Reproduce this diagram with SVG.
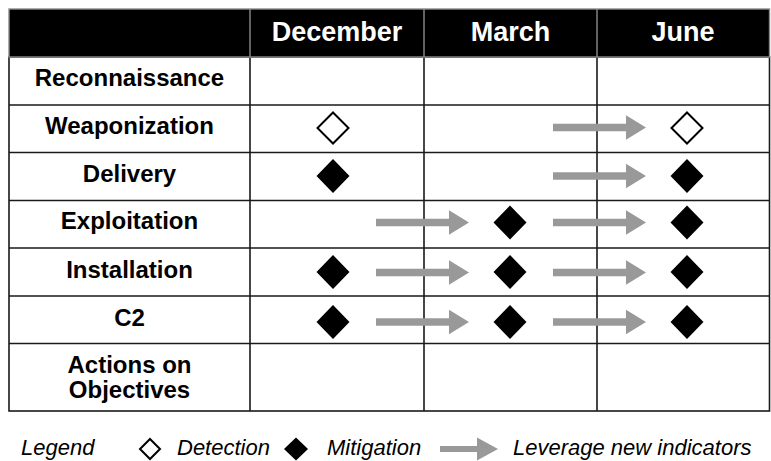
<svg xmlns="http://www.w3.org/2000/svg" xmlns:xlink="http://www.w3.org/1999/xlink" width="771" height="461" viewBox="0 0 771 461">
<style>
text{font-family:"Liberation Sans",Arial,Helvetica,sans-serif}
.hd{font-size:27px;font-weight:bold;fill:#fff;text-anchor:middle}
.lb{font-size:24px;font-weight:bold;fill:#000;text-anchor:middle}
.lg{font-size:22px;font-style:italic;fill:#000}
.grid{stroke:#1a1a1a;stroke-width:1.6;fill:none}
.hbox{stroke:#8c8c8c;stroke-width:1.4;fill:#000}
.hgrid{stroke:#8c8c8c;stroke-width:1.4;fill:none}
.det{fill:#fff;stroke:#000;stroke-width:2}
.mit{fill:#000}
.arr{fill:#999}
</style>
<defs>
<path id="dOpen" d="M0,-15.5 L15.5,0 L0,15.5 L-15.5,0Z"/>
<path id="dFill" d="M0,-17 L16.5,0 L0,17 L-16.5,0Z"/>
<path id="arrow" d="M0,-3.8 H73 V-12.3 L93,0 L73,12.3 V3.8 H0Z"/>
</defs>
<g id="table">
<rect x="9" y="57" width="760.5" height="354" class="grid"/>
<path class="grid" d="M250,57V411 M424,57V411 M597,57V411 M9,105H769.5 M9,152.5H769.5 M9,200.5H769.5 M9,248H769.5 M9,296H769.5 M9,343.5H769.5"/>
</g>
<g id="header">
<rect x="9" y="9" width="760.5" height="48" class="hbox"/>
<path class="hgrid" d="M250,9V57 M424,9V57 M597,9V57"/>
<text class="hd" x="337" y="41">December</text>
<text class="hd" x="510.5" y="41">March</text>
<text class="hd" x="683" y="41">June</text>
</g>
<g id="row-reconnaissance"><text class="lb" x="129.5" y="86">Reconnaissance</text></g>
<g id="row-weaponization"><text class="lb" x="129.5" y="134">Weaponization</text>
<use href="#dOpen" class="det" x="333" y="128"/>
<use href="#dOpen" class="det" x="687" y="128"/></g>
<g id="row-delivery"><text class="lb" x="129.5" y="182">Delivery</text>
<use href="#dFill" class="mit" x="333" y="176"/>
<use href="#dFill" class="mit" x="687" y="176"/></g>
<g id="row-exploitation"><text class="lb" x="129.5" y="229">Exploitation</text>
<use href="#dFill" class="mit" x="510" y="222.5"/>
<use href="#dFill" class="mit" x="687" y="222.5"/></g>
<g id="row-installation"><text class="lb" x="129.5" y="278">Installation</text>
<use href="#dFill" class="mit" x="333" y="272"/>
<use href="#dFill" class="mit" x="510" y="272"/>
<use href="#dFill" class="mit" x="687" y="272"/></g>
<g id="row-c2"><text class="lb" x="129.5" y="326">C2</text>
<use href="#dFill" class="mit" x="333" y="322"/>
<use href="#dFill" class="mit" x="510" y="322"/>
<use href="#dFill" class="mit" x="687" y="322"/></g>
<g id="row-actions"><text class="lb" x="129.5" y="373">Actions on</text><text class="lb" x="129.5" y="398">Objectives</text></g>
<g id="connectors">
<use href="#arrow" class="arr" x="553" y="127.5"/>
<use href="#arrow" class="arr" x="553" y="176"/>
<use href="#arrow" class="arr" x="376" y="222.5"/>
<use href="#arrow" class="arr" x="553" y="222.5"/>
<use href="#arrow" class="arr" x="376" y="272.5"/>
<use href="#arrow" class="arr" x="553" y="272.5"/>
<use href="#arrow" class="arr" x="376" y="322"/>
<use href="#arrow" class="arr" x="553" y="322"/>
</g>
<g id="legend">
<text class="lg" x="21" y="455">Legend</text>
<path class="det" d="M150,439 L160,449 L150,459 L140,449Z"/>
<text class="lg" x="177" y="455">Detection</text>
<path class="mit" d="M296,437.5 L308,449 L296,460.5 L284,449Z"/>
<text class="lg" x="327" y="455">Mitigation</text>
<path class="arr" d="M440,446 H477 V437.5 L498,449 L477,460.5 V452 H440Z"/>
<text class="lg" x="513" y="455">Leverage new indicators</text>
</g>
</svg>
